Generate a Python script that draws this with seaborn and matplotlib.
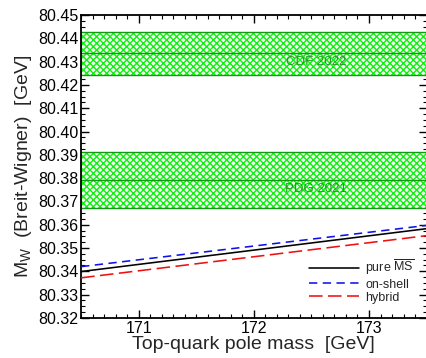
import numpy as np
import pandas as pd
import matplotlib
matplotlib.use("Agg")
import matplotlib.pyplot as plt
import seaborn as sns
from matplotlib.ticker import MultipleLocator, FormatStrFormatter

# top-quark pole mass range and predicted M_W at the ends
mt = [170.5, 173.5]
mw_pure_ms = [80.3399, 80.3583]
mw_on_shell = [80.3420, 80.3597]
mw_hybrid = [80.3372, 80.3553]
scheme_names = ["pure $\\overline{\\rm MS}$", "on-shell", "hybrid"]

# experimental bands: (label, central value, uncertainty)
band_labels = ["CDF 2022", "PDG 2021"]
band_center = [80.4335, 80.379]
band_error = [0.0094, 0.012]

df = pd.DataFrame({
    "mt": mt * 3,
    "mw": mw_pure_ms + mw_on_shell + mw_hybrid,
    "scheme": [s for s in scheme_names for _ in mt],
})

sns.set_theme(style="ticks")
plt.rcParams["font.family"] = ["Liberation Sans", "DejaVu Sans"]
plt.rcParams["mathtext.fontset"] = "custom"
plt.rcParams["mathtext.rm"] = "Liberation Sans"
plt.rcParams["mathtext.it"] = "Liberation Sans"
plt.rcParams["hatch.linewidth"] = 1.0
plt.rcParams["hatch.color"] = "#11ee11"

fig = plt.figure(figsize=(4.27, 3.58), dpi=100)
ax = fig.add_axes([0.19, 0.112, 0.809, 0.846])

green_edge = "#119911"
for lab, c, e in zip(band_labels, band_center, band_error):
    ax.axhspan(c - e, c + e, facecolor="#f4fff4", edgecolor="#11ee11",
               hatch="xxxxx", linewidth=0, zorder=1)
    for yv in (c - e, c, c + e):
        ax.axhline(yv, color=green_edge, lw=1.0, zorder=2)
    ax.text(172.54, c - 0.0035, lab, color="#249624", fontsize=9.5,
            ha="center", va="center", zorder=3)

palette = {scheme_names[0]: "black", scheme_names[1]: "#1010ee", scheme_names[2]: "#ee1111"}
dashes = {scheme_names[0]: "", scheme_names[1]: (5.2, 3.4), scheme_names[2]: (8.5, 3.4)}
sns.lineplot(data=df, x="mt", y="mw", hue="scheme", style="scheme",
             palette=palette, dashes=dashes, linewidth=1.15, ax=ax, zorder=4)

ax.set_xlim(170.5, 173.5)
ax.set_ylim(80.32, 80.45)
ax.xaxis.set_major_locator(MultipleLocator(1))
ax.xaxis.set_minor_locator(MultipleLocator(0.1))
ax.yaxis.set_major_locator(MultipleLocator(0.01))
ax.yaxis.set_minor_locator(MultipleLocator(0.0025))
ax.yaxis.set_major_formatter(FormatStrFormatter("%.2f"))
ax.tick_params(which="both", direction="in", top=True, right=True,
               labelsize=11.5, colors="black", pad=2)
ax.tick_params(which="major", length=6, width=1)
ax.tick_params(which="minor", length=3, width=0.8)
for sp in ax.spines.values():
    sp.set_linewidth(1.3)
    sp.set_color("black")

ax.set_xlabel("Top-quark pole mass  [GeV]", fontsize=14, labelpad=0)
ax.set_ylabel("$M_W$  (Breit-Wigner)  [GeV]", fontsize=14, labelpad=3)

leg = ax.legend(loc="lower right", frameon=False, fontsize=9,
                handlelength=4.0, handletextpad=0.5, labelspacing=0.1,
                borderaxespad=0.0, bbox_to_anchor=(0.98, 0.03))
leg.set_title(None)

fig.savefig("out.png", dpi=100)
